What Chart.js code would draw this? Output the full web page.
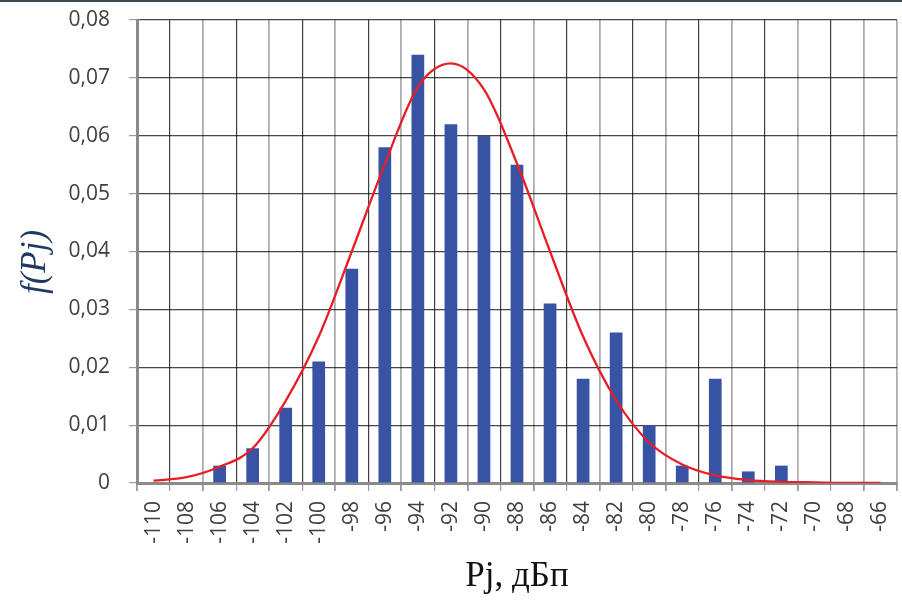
<!DOCTYPE html>
<html>
<head>
<meta charset="utf-8">
<script src="https://cdn.jsdelivr.net/npm/chart.js@4.4.1/dist/chart.umd.min.js"></script>
<style>
    html, body { margin: 0; padding: 0; background: #fff; }
    #wrap { position: relative; width: 902px; height: 602px; }
    #topLine { position: absolute; left: 0; top: 0; width: 902px; height: 2px; background: #3b4a52; }
</style>
</head>
<body>
<div id="wrap">
    <canvas id="histChart"></canvas>
    <div id="topLine"></div>
</div>
<script>
// Power levels Pj, dBm (categories)
const levels = ['-110', '-108', '-106', '-104', '-102', '-100', '-98', '-96', '-94', '-92', '-90', '-88',
                '-86', '-84', '-82', '-80', '-78', '-76', '-74', '-72', '-70', '-68', '-66'];

// Histogram f(Pj)
const freqValues = [0, 0, 0.003, 0.006, 0.013, 0.021, 0.037, 0.058, 0.074, 0.062, 0.060, 0.055,
                    0.031, 0.018, 0.026, 0.010, 0.003, 0.018, 0.002, 0.003, 0, 0, 0];

// Fitted curve at each level
const fitValues = [0.0004, 0.0010, 0.0028, 0.0060, 0.0142, 0.0253, 0.0400, 0.0551, 0.0684, 0.0725, 0.0680, 0.0552,
                   0.0400, 0.0253, 0.0143, 0.0070, 0.0032, 0.0013, 0.0005, 0.0002, 0.0001, 0, 0];

// Y axis tick labels (0 .. 0,08)
const yTickLabels = ['0', '0,01', '0,02', '0,03', '0,04', '0,05', '0,06', '0,07', '0,08'];

const xTitle = 'Pj, дБп';
const yTitle = 'f(Pj)';

// y axis title drawn by hand so it can sit where the original has it
const yTitlePlugin = {
    id: 'yTitle',
    afterDraw(chart) {
        const c = chart.ctx;
        c.save();
        c.translate(36, 262);
        c.rotate(-Math.PI / 2);
        c.font = 'italic 35px "Liberation Serif"';
        c.fillStyle = '#1f3864';
        c.textAlign = 'center';
        c.textBaseline = 'middle';
        c.fillText(yTitle, 0, 0);
        c.restore();
    }
};

const ctx = document.getElementById('histChart').getContext('2d');

const histChart = new Chart(ctx, {
    type: 'bar',
    data: {
        labels: levels,
        datasets: [{
            type: 'line',
            data: fitValues,
            borderColor: '#e81e26',
            borderWidth: 2.3,
            pointRadius: 0,
            cubicInterpolationMode: 'monotone',
            fill: false,
            order: 0
        }, {
            type: 'bar',
            data: freqValues,
            backgroundColor: '#3953a4',
            barPercentage: 0.385,
            categoryPercentage: 1.0,
            order: 1
        }]
    },
    options: {
        responsive: true,
        maintainAspectRatio: false,
        animation: false,
        layout: {
            padding: { left: 0, right: 5, top: 20, bottom: 0 }
        },
        plugins: {
            legend: { display: false },
            tooltip: { enabled: false }
        },
        scales: {
            x: {
                // keep the label overhang from shrinking the plot area
                afterFit: scale => {
                    scale.height = 119;
                    scale.paddingLeft = 0;
                    scale.paddingRight = 0;
                },
                grid: {
                    offset: true,
                    color: c => (c.index % 2 === 1 ? 'rgba(0,0,0,0.75)' : 'rgba(0,0,0,0.32)'),
                    lineWidth: c => (c.index % 2 === 1 ? 1.2 : 1.8),
                    tickColor: '#9a9a9a',
                    tickLength: 8
                },
                border: { color: '#8a8a8a', width: 3 },
                ticks: {
                    autoSkip: false,
                    minRotation: 90,
                    maxRotation: 90,
                    padding: 10,
                    color: '#404040',
                    font: { family: '"Open Sans"', size: 21 }
                },
                title: {
                    display: true,
                    text: xTitle,
                    color: '#111',
                    font: { family: '"Liberation Serif"', size: 35 },
                    padding: { top: 0, bottom: 4 }
                }
            },
            y: {
                min: 0,
                max: 0.08,
                afterFit: scale => {
                    scale.width = 137;
                    scale.paddingTop = 0;
                    scale.paddingBottom = 0;
                },
                grid: {
                    color: 'rgba(0,0,0,0.72)',
                    lineWidth: 1.2,
                    tickColor: '#9a9a9a',
                    tickLength: 8
                },
                border: { color: '#8a8a8a', width: 3 },
                ticks: {
                    stepSize: 0.01,
                    padding: 19,
                    color: '#404040',
                    font: { family: '"Open Sans"', size: 21 },
                    callback: (value, index) => yTickLabels[index]
                }
            }
        }
    },
    plugins: [yTitlePlugin]
});
</script>
</body>
</html>
